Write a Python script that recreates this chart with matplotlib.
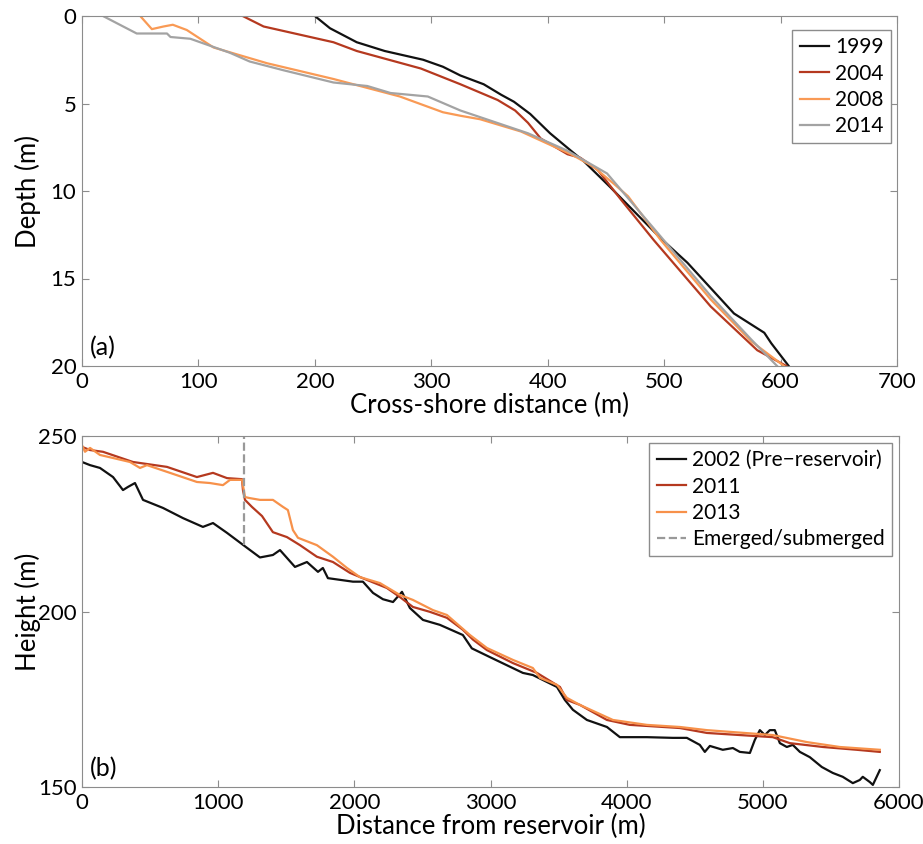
import matplotlib.pyplot as plt

plt.rcParams['font.family'] = ['Lato', 'DejaVu Sans']

# (a) cross-shore profiles: distance (m) and depth (m)
x_1999 = [200, 213, 236, 260, 293, 310, 325, 345, 360, 371, 385, 402, 420, 431, 454, 497, 520, 560, 586, 592, 607]
d_1999 = [0, 0.7, 1.5, 2.0, 2.5, 2.9, 3.4, 3.9, 4.5, 4.9, 5.6, 6.7, 7.7, 8.3, 9.8, 12.7, 14.1, 17.0, 18.1, 18.7, 20]

x_2004 = [138, 156, 216, 236, 291, 325, 357, 372, 383, 394, 417, 428, 443, 463, 491, 540, 580, 605]
d_2004 = [0, 0.6, 1.5, 2.0, 3.0, 3.9, 4.8, 5.4, 6.1, 7.0, 7.9, 8.1, 8.8, 10.5, 12.8, 16.6, 19.1, 20]

x_2008 = [50, 60, 70, 78, 90, 113, 159, 216, 273, 310, 325, 342, 377, 400, 420, 439, 457, 469, 497, 540, 575, 603]
d_2008 = [0, 0.75, 0.6, 0.5, 0.8, 1.8, 2.7, 3.6, 4.6, 5.5, 5.7, 5.9, 6.6, 7.3, 7.9, 8.6, 9.6, 10.3, 12.8, 16.2, 18.6, 20]

x_2014 = [18, 47, 73, 76, 93, 127, 144, 173, 216, 245, 265, 297, 325, 383, 417, 451, 497, 540, 575, 597]
d_2014 = [0, 1.0, 1.0, 1.2, 1.3, 2.1, 2.6, 3.1, 3.8, 4.0, 4.4, 4.6, 5.4, 6.7, 7.7, 9.0, 12.6, 16.0, 18.5, 20]

# (b) longitudinal profiles: distance (m) and height (m)
x_2002 = [0, 59, 132, 228, 301, 338, 389, 448, 595, 742, 888, 962, 1065, 1182, 1307, 1402, 1454, 1564,
          1652, 1733, 1769, 1806, 1990, 2063, 2137, 2210, 2284, 2350, 2408, 2504, 2628, 2797, 2863, 2996,
          3238, 3311, 3488, 3546, 3605, 3708, 3855, 3950, 4148, 4339, 4442, 4537, 4574, 4611, 4706, 4780,
          4831, 4905, 4941, 4978, 5015, 5051, 5088, 5125, 5176, 5220, 5272, 5345, 5433, 5514, 5587, 5661,
          5712, 5734, 5786, 5808, 5859]
h_2002 = [242.6, 241.7, 240.9, 238.3, 234.6, 235.5, 236.6, 231.8, 229.5, 226.6, 224.1, 225.2, 222.4, 219.0,
          215.4, 216.1, 217.5, 212.7, 214.1, 211.3, 212.4, 209.5, 208.5, 208.5, 205.3, 203.5, 202.7, 205.6,
          201.0, 197.6, 196.2, 193.3, 189.5, 187.0, 182.5, 181.9, 178.5, 174.8, 172.0, 169.1, 167.1, 164.2,
          164.2, 164.0, 164.0, 162.0, 160.0, 161.7, 160.6, 161.1, 160.0, 159.7, 163.4, 166.2, 164.8, 166.2,
          166.2, 162.5, 161.4, 162.0, 160.0, 158.5, 155.7, 154.0, 152.9, 151.1, 152.0, 152.9, 151.4, 150.6,
          154.8]

x_2011 = [0, 59, 154, 374, 624, 844, 962, 1065, 1175, 1182, 1197, 1248, 1322, 1402, 1505, 1601, 1725,
          1843, 1968, 2092, 2239, 2335, 2430, 2555, 2680, 2797, 2871, 2974, 3165, 3341, 3510, 3561, 3656,
          3855, 4023, 4391, 4589, 4831, 5073, 5198, 5441, 5690, 5859]
h_2011 = [246.9, 246.0, 245.5, 242.6, 241.2, 238.3, 239.5, 238.0, 237.7, 234.6, 231.8, 229.8, 227.2, 222.6,
          221.2, 218.9, 215.6, 214.1, 211.0, 209.0, 206.7, 204.1, 201.3, 199.9, 198.2, 194.8, 192.0, 189.0,
          185.3, 182.5, 178.5, 174.8, 173.4, 169.1, 167.7, 166.8, 165.4, 164.8, 164.2, 162.5, 161.4, 160.6,
          160.0]

x_2013 = [0, 22, 59, 132, 352, 426, 477, 646, 844, 940, 1035, 1087, 1123, 1175, 1197, 1233, 1307, 1402,
          1476, 1512, 1549, 1586, 1725, 1843, 1946, 2041, 2188, 2335, 2430, 2577, 2680, 2849, 2974, 3165,
          3311, 3363, 3488, 3561, 3656, 3899, 4148, 4391, 4589, 5073, 5323, 5565, 5859]
h_2013 = [247.4, 245.5, 246.6, 244.6, 242.6, 240.9, 241.7, 239.5, 236.9, 236.6, 236.0, 237.5, 237.5, 237.5,
          232.6, 232.3, 231.8, 231.8, 229.8, 228.9, 223.2, 221.0, 218.9, 215.6, 212.4, 209.8, 208.1, 204.7,
          203.3, 200.4, 199.0, 193.3, 189.6, 186.2, 183.9, 181.1, 179.1, 175.4, 173.4, 169.1, 167.7, 167.1,
          166.2, 164.8, 162.8, 161.4, 160.6]

emerge_x = [1190, 1190]
emerge_h = [219, 250]

black = '#111111'
red = '#b5391f'
orange = '#f99a55'
grey = '#a3a3a3'
spine = '#8c8c8c'

fig = plt.figure(figsize=(9.23, 8.44), dpi=100)
ax1 = fig.add_axes([82 / 923, 1 - 366 / 844, 815 / 923, 350 / 844])
ax2 = fig.add_axes([82 / 923, 1 - 787 / 844, 817 / 923, 351 / 844])

leg_kw = dict(loc='upper right', fontsize=15, handlelength=1.4, fancybox=False, edgecolor=spine,
              borderaxespad=0, labelspacing=0.3, handletextpad=0.3, borderpad=0.35, framealpha=1)

ax1.plot(x_1999, d_1999, color=black, lw=1.6, label='1999')
ax1.plot(x_2004, d_2004, color=red, lw=1.6, label='2004')
ax1.plot(x_2008, d_2008, color=orange, lw=1.6, label='2008')
ax1.plot(x_2014, d_2014, color=grey, lw=1.6, label='2014')
ax1.set_xlim(0, 700)
ax1.set_ylim(20, 0)
ax1.set_yticks([0, 5, 10, 15, 20])
ax1.set_xlabel('Cross-shore distance (m)', fontsize=18.5, labelpad=1)
ax1.set_ylabel('Depth (m)', fontsize=18.5)
ax1.text(0.01, 0.03, '(a)', transform=ax1.transAxes, fontsize=18)
ax1.legend(bbox_to_anchor=(0.9926, 0.96), **leg_kw)

ax2.plot(x_2002, h_2002, color=black, lw=1.6, label='2002 (Pre\u2212reservoir)')
ax2.plot(x_2011, h_2011, color=red, lw=1.6, label='2011')
ax2.plot(x_2013, h_2013, color='#f7914a', lw=1.6, label='2013')
ax2.plot(emerge_x, emerge_h, color='#999999', lw=1.6, ls='--', label='Emerged/submerged')
ax2.set_xlim(0, 6000)
ax2.set_ylim(150, 250)
ax2.set_yticks([150, 200, 250])
ax2.set_xlabel('Distance from reservoir (m)', fontsize=18.5, labelpad=1)
ax2.set_ylabel('Height (m)', fontsize=18.5)
ax2.text(0.01, 0.03, '(b)', transform=ax2.transAxes, fontsize=18)
ax2.legend(bbox_to_anchor=(0.9914, 0.98), **leg_kw)

for ax in (ax1, ax2):
    for s in ax.spines.values():
        s.set_color(spine)
    ax.tick_params(direction='in', top=True, right=True, length=5, color=spine,
                   labelsize=16, pad=4)
    ax.yaxis.set_label_coords(-0.05, 0.5)

fig.savefig('out.png', dpi=100)
